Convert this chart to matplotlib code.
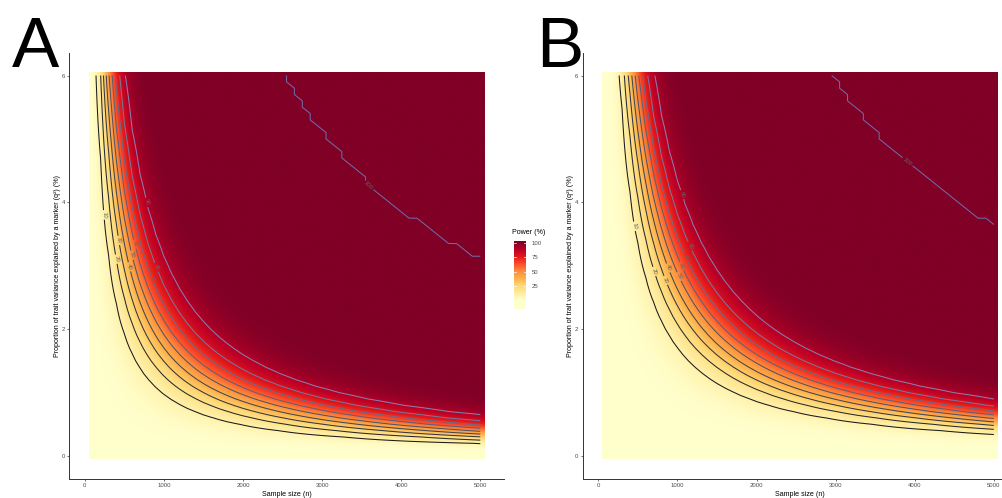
"""
Detection power of a single-marker test over sample size and variance explained,
for two significance thresholds (panel A and panel B).
"""

import math

import matplotlib

matplotlib.use("Agg")
import matplotlib.pyplot as plt
import numpy as np
from matplotlib.colors import LinearSegmentedColormap

plt.rcParams["font.family"] = ["Liberation Sans", "DejaVu Sans"]

# grid the contours are computed on (tiles 100 wide in n, 0.1 tall in q2)
sample_sizes = np.arange(100, 5001, 100)
q2_percent = np.arange(0, 61) / 10
# finer grid for the colour fill, spanning the tile extents
fill_sizes = np.arange(50, 5051, 10)
fill_q2 = np.arange(-5, 606) / 100
# significance thresholds
alpha_a = 1e-5
alpha_b = 5e-8
contour_levels = [10, 20, 30, 40, 50, 60, 70, 80, 90]
cbar_ticks = [25, 50, 75, 100]
x_ticks = [0, 1000, 2000, 3000, 4000, 5000]
y_ticks = [0, 2, 4, 6]

# where the contour labels sit, (n, q2 %)
labels_a = [(224, 3.8), (380, 3.1), (430, 3.4), (556, 2.98), (606, 3.17),
            (632, 3.34), (860, 2.79), (910, 2.98), (784, 4.0)]
label100_a = [(3565, 4.23)]
labels_b = [(451, 3.62), (704, 2.91), (852, 2.77), (894, 2.97), (1020, 2.83),
            (1050, 2.99), (1109, 3.13), (1160, 3.31), (1054, 4.12)]
label100_b = [(3852, 4.55)]

W, H = 1002, 498
TICK_COL = "#4D4D4D"
LINE_CMAP = LinearSegmentedColormap.from_list("lev", ["#1a1a1a", "#5a5a6a", "#9488c0"])

_erfc = np.vectorize(math.erfc)


def upper_tail(x):
    return 0.5 * _erfc(np.asarray(x, dtype=float) / math.sqrt(2))


def z_crit(alpha):
    lo, hi = 0.0, 12.0
    for _ in range(200):
        mid = (lo + hi) / 2
        if 2 * upper_tail(mid) > alpha:
            lo = mid
        else:
            hi = mid
    return lo


def power_prob(alpha, ns, qs):
    n, q = np.meshgrid(ns, np.clip(qs, 0, None) / 100)
    ncp = np.sqrt(n * q / (1 - q))
    z = z_crit(alpha)
    return (1 - upper_tail(ncp - z)) + upper_tail(ncp + z)


def px_rect(x0, y0, x1, y1):
    """pixel box (top-left origin) -> figure fraction rect"""
    return [x0 / W, 1 - y1 / H, (x1 - x0) / W, (y1 - y0) / H]


def draw_panel(fig, rect, alpha, labels, label100):
    ax = fig.add_axes(rect)
    prob = power_prob(alpha, sample_sizes, q2_percent)
    pw = 100 * prob
    fill = 100 * power_prob(alpha, fill_sizes, fill_q2)

    ax.imshow(fill, origin="lower", extent=[50, 5050, -0.05, 6.05], aspect="auto",
              cmap="YlOrRd", vmin=pw.min(), vmax=100, interpolation="antialiased",
              interpolation_stage="rgba")
    ax.set_xlim(-200, 5300)
    ax.set_ylim(-0.355, 6.355)

    cols = [LINE_CMAP((lv - 10) / 90) for lv in contour_levels]
    cs = ax.contour(sample_sizes, q2_percent, pw, levels=contour_levels,
                    colors=cols, linewidths=0.75)
    ax.clabel(cs, fmt="%d", fontsize=4.2, colors="#666666", inline=True,
              inline_spacing=1.5, manual=labels)
    # cells where the computed power saturates at exactly 100 %
    sat = np.where(prob >= 1.0, 101.0, 99.0)
    cs100 = ax.contour(sample_sizes, q2_percent, sat, levels=[100],
                       colors=["#7468a8"], linewidths=0.75)
    ax.clabel(cs100, fmt={100: "100"}, fontsize=4.2, colors="#666666", inline=True,
              inline_spacing=1.5, manual=label100)

    for side in ("top", "right"):
        ax.spines[side].set_visible(False)
    for side in ("left", "bottom"):
        ax.spines[side].set_color("#333333")
        ax.spines[side].set_linewidth(0.7)
    ax.set_xticks(x_ticks)
    ax.set_yticks(y_ticks)
    ax.tick_params(length=1.6, width=0.5, color="#333333", labelsize=4.3,
                   labelcolor=TICK_COL, pad=1.5)
    ax.set_xlabel("Sample size (n)", fontsize=5.1, labelpad=2)
    ax.set_ylabel("Proportion of trait variance explained by a marker (q²) (%)",
                  fontsize=5.1, labelpad=0.5)
    return ax


def main():
    fig = plt.figure(figsize=(W / 100, H / 100), dpi=100)

    draw_panel(fig, px_rect(69, 53, 504, 478.5), alpha_a, labels_a, label100_a)
    draw_panel(fig, px_rect(582.5, 53, 1017.6, 478.5), alpha_b, labels_b, label100_b)

    fig.text(12 / W, 1 - 67 / H, "A", fontsize=51, ha="left", va="baseline")
    fig.text(536 / W, 1 - 67 / H, "B", fontsize=51, ha="left", va="baseline")

    # colour bar legend for panel A
    cax = fig.add_axes(px_rect(514, 240.7, 526, 309.3))
    lo, hi = -14.6, 103.4
    grad = np.linspace(lo, hi, 256)[:, None]
    cax.imshow(grad, origin="lower", extent=[0, 1, lo, hi], aspect="auto",
               cmap="YlOrRd", vmin=0, vmax=100)
    cax.set_xlim(0, 1)
    cax.set_ylim(lo, hi)
    for t in cbar_ticks:
        cax.plot([0, 0.2], [t, t], color="white", lw=0.5)
        cax.plot([0.8, 1], [t, t], color="white", lw=0.5)
    for s in cax.spines.values():
        s.set_visible(False)
    cax.set_xticks([])
    cax.yaxis.tick_right()
    cax.set_yticks(cbar_ticks)
    cax.tick_params(axis="y", length=0, labelsize=4.3, labelcolor=TICK_COL, pad=4)
    fig.text(512 / W, 1 - 232 / H, "Power (%)", fontsize=5.1, ha="left", va="center")

    fig.savefig("out.png", dpi=100)
    plt.close(fig)


if __name__ == "__main__":
    main()
